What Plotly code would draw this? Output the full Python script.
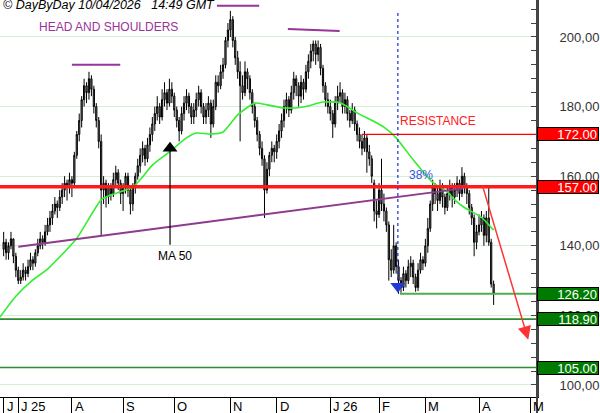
import pandas as pd
import plotly.graph_objects as go

# ---------------- data ----------------
holidays = ["2025-06-19", "2025-07-04", "2025-09-01", "2025-11-27", "2025-12-25",
            "2026-01-01", "2026-01-19", "2026-02-16", "2026-04-03"]
first_day = "2025-06-23"
last_day = "2026-04-10"
dates = [d for d in pd.bdate_range(first_day, last_day) if d.strftime("%Y-%m-%d") not in holidays]

opens = [139,141,138,140,142,137,133,130,131,133,132,134,136,135,138,140,142,141,144,146,
         148,150,152,151,154,156,158,157,159,158,166,172,176,182,186,184,188,185,180,176,
         170,156,158,154,157,155,159,161,158,155,157,160,156,152,157,160,163,166,168,165,
         169,172,175,178,180,177,182,184,181,185,183,179,176,173,178,181,183,180,177,179,
         182,184,180,177,179,181,175,180,187,186,190,192,199,202,205,199,194,190,186,184,
         190,188,184,180,176,172,168,165,156,162,166,168,167,170,173,176,180,182,179,184,
         188,186,183,187,185,190,193,196,198,195,197,191,186,182,180,178,175,181,183,184,
         180,182,178,176,179,175,172,170,168,171,167,165,158,150,149,156,152,150,146,136,
         133,140,134,130,128,132,130,134,135,131,128,133,136,135,140,145,152,157,155,153,
         157,154,151,155,157,154,156,158,155,160,157,155,151,148,141,144,146,148,143,148,
         141,129]
highs = [144,142,141,144,142,138,134,133,135,134,136,138,137,139,142,144,143,146,148,150,
         152,154,153,156,158,160,159,161,160,167,173,178,183,188,187,190,189,186,181,177,
         172,160,159,158,158,161,163,162,159,158,161,161,157,158,161,165,168,170,169,171,
         174,177,180,183,181,185,187,185,188,187,184,180,177,180,183,185,184,181,181,184,
         186,185,181,181,183,182,182,189,189,192,194,200,204,207.5,206,200,196,193,189,193,
         191,189,185,181,177,173,170,166,164,167,170,169,172,175,178,182,184,183,186,190,
         189,187,189,188,192,195,198,199,199,199,198,192,187,184,182,179,183,186,187,185,
         184,183,179,181,180,176,174,172,173,172,169,166,159,153,158,165,155,151,147,139,
         146,141,136,131,134,133,136,137,136,132,135,138,137,142,148,153,159,158,157,159,
         158,155,157,159,158,158,160,159,162.6,161,158,156,152,149,146,149,150,149,150,157,
         142,130]
lows = [137,136,136,139,135,131,129,129,130,130,131,133,133,134,137,139,139,140,143,144,
        146,149,148,150,152,154,153,155,154,157,165,170,174,180,181,182,183,178,174,168,
        143,152,151,152,153,154,157,156,152,150,155,154,149,150,155,159,161,164,163,164,
        167,170,173,176,175,176,180,179,180,181,177,174,170,172,176,179,178,175,175,177,
        180,178,175,175,177,171,174,179,184,185,188,191,197,200,197,192,188,170,182,183,
        185,182,178,174,170,166,163,148,155,160,164,164,165,168,171,174,178,177,178,182,
        183,180,181,182,184,188,191,193,192,193,189,184,180,178,176,171,174,179,181,178,
        178,176,174,175,173,170,168,166,167,161,163,158,147,145,148,150,147,144,130,131,
        132,132,126.2,126.5,127,128,129,131,129,126.8,127,132,133,134,138,144,150,152,150,152,
        151,149,150,153,151,152,154,153,154,155,152,149,146,137,139,143,144,140,141,140,
        128,123]
closes = [141,138,140,142,137,133,130,131,133,132,134,136,135,138,140,142,141,144,146,148,
          150,152,151,154,156,158,157,159,158,166,172,176,182,186,184,188,185,180,176,170,
          156,158,154,157,155,159,161,158,155,157,160,156,152,157,160,163,166,168,165,169,
          172,175,178,180,177,182,184,181,185,183,179,176,173,178,181,183,180,177,179,182,
          184,180,177,179,181,175,180,187,186,190,192,199,202,205,199,194,190,186,184,190,
          188,184,180,176,172,168,165,156,162,166,168,167,170,173,176,180,182,179,184,188,
          186,183,187,185,190,193,196,198,195,197,191,186,182,180,178,175,181,183,184,180,
          182,178,176,179,175,172,170,168,171,167,165,160,150,149,156,152,150,146,136,133,
          140,134,130,128,132,130,134,135,131,128,133,136,135,140,145,152,157,155,153,157,
          154,151,155,157,154,156,158,155,160,157,155,151,148,141,144,146,148,143,148,141,
          129,126.2]

# 50-day moving average
ma_dates = ["2025-06-18 12:00", "2025-06-30", "2025-07-10", "2025-07-18", "2025-08-05",
            "2025-08-19", "2025-08-25", "2025-09-08", "2025-09-12", "2025-09-18",
            "2025-09-29", "2025-10-08", "2025-10-14", "2025-10-22", "2025-10-29",
            "2025-11-06", "2025-11-17", "2025-11-24", "2025-12-04", "2025-12-16",
            "2025-12-29", "2026-01-08", "2026-01-20", "2026-01-29", "2026-02-04",
            "2026-02-11", "2026-02-23", "2026-03-05", "2026-03-13", "2026-03-18",
            "2026-03-24", "2026-04-02", "2026-04-10"]
ma_values = [119.5, 125.5, 130.2, 133.3, 142.2, 153.2, 154.6, 156.9, 159.8, 163.2,
             167.0, 171.0, 172.4, 172.1, 172.7, 177.6, 181.0, 180.5, 179.6, 179.9,
             181.3, 181.1, 178.2, 175.7, 174.1, 171.0, 164.7, 158.2, 155.5, 153.2,
             151.0, 148.2, 144.5]

month_ticks = ["2025-06-23", "2025-07-01", "2025-08-01", "2025-09-02", "2025-10-01",
               "2025-11-03", "2025-12-01", "2026-01-02", "2026-02-02", "2026-03-02",
               "2026-04-01", "2026-05-01"]
month_labels = ["J", "J 25", "A", "S", "O", "N", "D", "J 26", "F", "M", "A", "M"]

levels = [172.0, 157.0, 126.2, 118.9, 105.0]
level_labels = ["172.00", "157.00", "126.20", "118.90", "105.00"]
level_colors = ["#ff0000", "#ff0000", "#007a00", "#007a00", "#007a00"]

y_ticks = [100, 120, 140, 160, 180, 200]

x_range = ["2025-06-18 12:00", "2026-05-05 19:00"]
y_range = [96.55, 210.63]

FONT = "Arial, Liberation Sans, sans-serif"

# ---------------- figure ----------------
fig = go.Figure()

fig.add_trace(go.Candlestick(
    x=dates, open=opens, high=highs, low=lows, close=closes,
    increasing=dict(line=dict(color="#000000", width=1), fillcolor="#8c8c8c"),
    decreasing=dict(line=dict(color="#000000", width=1), fillcolor="#8c8c8c"),
    whiskerwidth=0, showlegend=False, hoverinfo="skip"))

fig.add_trace(go.Scatter(x=ma_dates, y=ma_values, mode="lines",
                         line=dict(color="#33ee33", width=1.6, shape="spline", smoothing=0.6),
                         showlegend=False, hoverinfo="skip"))

shapes = []
# horizontal levels
shapes.append(dict(type="line", xref="paper", x0=0, x1=1, yref="y", y0=157, y1=157,
                   line=dict(color="#ff1a1a", width=3.5), layer="above"))
shapes.append(dict(type="line", xref="x", x0="2026-01-22", x1=x_range[1], yref="y", y0=172, y1=172,
                   line=dict(color="#ff0000", width=1.2)))
shapes.append(dict(type="line", xref="x", x0="2026-02-12 14:00", x1=x_range[1], yref="y", y0=126.2, y1=126.2,
                   line=dict(color="#4caf4c", width=2)))
shapes.append(dict(type="line", xref="paper", x0=0, x1=1, yref="y", y0=118.9, y1=118.9,
                   line=dict(color="#2e8b2e", width=1.8)))
shapes.append(dict(type="line", xref="paper", x0=0, x1=1, yref="y", y0=105, y1=105,
                   line=dict(color="#2e8b2e", width=1.5)))
# neckline
shapes.append(dict(type="line", xref="x", x0="2025-07-01", x1="2026-03-23 12:00", yref="y",
                   y0=139.7, y1=156.5, line=dict(color="#8e3a8e", width=2)))
# shoulder / head tops
shapes.append(dict(type="line", xref="x", x0="2025-08-01", x1="2025-08-28 20:00", yref="y",
                   y0=192, y1=192, line=dict(color="#993399", width=2)))
shapes.append(dict(type="line", xref="x", x0="2025-10-24 12:00", x1="2025-11-18 20:00", yref="y",
                   y0=209, y1=209, line=dict(color="#993399", width=2)))
shapes.append(dict(type="line", xref="x", x0="2025-12-05 14:00", x1="2026-01-07 20:00", yref="y",
                   y0=202.3, y1=201.7, line=dict(color="#993399", width=2)))
# blue dotted vertical
shapes.append(dict(type="line", xref="x", x0="2026-02-11 17:00", x1="2026-02-11 17:00", yref="y",
                   y0=206.9, y1=129.5, line=dict(color="#2b3fd6", width=1.3, dash="dot")))
# MA 50 pointer
shapes.append(dict(type="line", xref="x", x0="2025-09-29 06:00", x1="2025-09-29 06:00", yref="y",
                   y0=140.3, y1=167.5, line=dict(color="#000000", width=1.2)))
# y axis line extended through the month row
shapes.append(dict(type="line", xref="paper", x0=1, x1=1, yref="paper", y0=-0.045, y1=1,
                   line=dict(color="#444444", width=2)))

fig.add_trace(go.Scatter(x=["2026-02-11 17:00"], y=[128.4], mode="markers",
                         marker=dict(symbol="triangle-down", size=13, color="#1f3ad6"),
                         showlegend=False, hoverinfo="skip"))
fig.add_trace(go.Scatter(x=["2025-09-29 06:00"], y=[168.0], mode="markers",
                         marker=dict(symbol="triangle-up", size=13, color="#000000"),
                         showlegend=False, hoverinfo="skip"))

ann = []
ann.append(dict(xref="paper", yref="paper", x=0, y=1, xanchor="left", yanchor="top", xshift=1, yshift=4,
                text="<i>© DayByDay 10/04/2026\u00a0\u00a0 14:49 GMT</i>", showarrow=False,
                font=dict(family=FONT, size=12.5, color="#000000")))
ann.append(dict(xref="x", yref="y", x="2025-07-11 16:00", y=202.9, xanchor="left", yanchor="middle",
                text="HEAD AND SHOULDERS", showarrow=False,
                font=dict(family=FONT, size=12, color="#993399")))
ann.append(dict(xref="x", yref="y", x="2026-02-11 19:00", y=175.9, xanchor="left", yanchor="middle",
                text="RESISTANCE", showarrow=False, font=dict(family=FONT, size=12, color="#ff2020")))
ann.append(dict(xref="x", yref="y", x="2026-02-18 12:00", y=160.3, xanchor="left", yanchor="middle",
                text="38%", showarrow=False, font=dict(family=FONT, size=12, color="#3355dd")))
ann.append(dict(xref="x", yref="y", x="2025-10-01 02:00", y=137.1, xanchor="center", yanchor="middle",
                text="MA 50", showarrow=False, font=dict(family=FONT, size=12, color="#000000")))
# red projected arrow
ann.append(dict(xref="x", yref="y", x="2026-04-30 05:00", y=113.0, axref="x", ayref="y",
                ax="2026-04-02 08:00", ay=157.5, text="", showarrow=True, arrowhead=2,
                arrowsize=1.8, arrowwidth=1.5, arrowcolor="#ff3333", standoff=0))
# month labels
for d, lab in zip(month_ticks, month_labels):
    ann.append(dict(xref="x", yref="paper", x=d, y=0, xanchor="left", yanchor="top", xshift=1, yshift=0,
                    text=lab, showarrow=False, font=dict(family=FONT, size=13, color="#000000")))
# level boxes on the price axis
for v, lab, col in zip(levels, level_labels, level_colors):
    ann.append(dict(xref="paper", yref="y", x=1, y=v, xanchor="left", yanchor="middle", xshift=0,
                    text=lab, showarrow=False, align="right", width=58, height=10,
                    bgcolor=col, bordercolor="#000000", borderwidth=1, borderpad=1,
                    font=dict(family=FONT, size=13, color="#ffffff")))

fig.update_layout(
    width=600, height=413,
    margin=dict(l=0, r=63, t=0, b=16),
    paper_bgcolor="#ffffff", plot_bgcolor="#ffffff",
    separators=", ",
    shapes=shapes, annotations=ann,
    showlegend=False,
    xaxis=dict(type="date", range=x_range, fixedrange=True,
               rangebreaks=[dict(bounds=["sat", "mon"]), dict(values=holidays)],
               rangeslider=dict(visible=False),
               tickmode="array", tickvals=month_ticks, ticktext=[""] * len(month_ticks),
               ticks="outside", ticklen=16, tickcolor="#000000", tickwidth=1,
               showgrid=False, zeroline=False, showline=True, linecolor="#000000", linewidth=1),
    yaxis=dict(side="right", range=y_range, fixedrange=True,
               tickmode="array", tickvals=y_ticks, tickformat=".2f",
               ticks="inside", ticklen=6, tickcolor="#444444", tickwidth=1,
               minor=dict(dtick=4, tick0=100, ticks="inside", ticklen=6, tickcolor="#444444", showgrid=False),
               showgrid=True, gridcolor="#d4f0d4", gridwidth=1,
               zeroline=False, showline=True, linecolor="#444444", linewidth=2,
               ticklabelstandoff=18,
               tickfont=dict(family=FONT, size=13, color="#333333")),
)

fig.write_html("out.html", config={"displayModeBar": False},
               post_script="document.body.style.margin='0';document.body.style.overflow='hidden';")
